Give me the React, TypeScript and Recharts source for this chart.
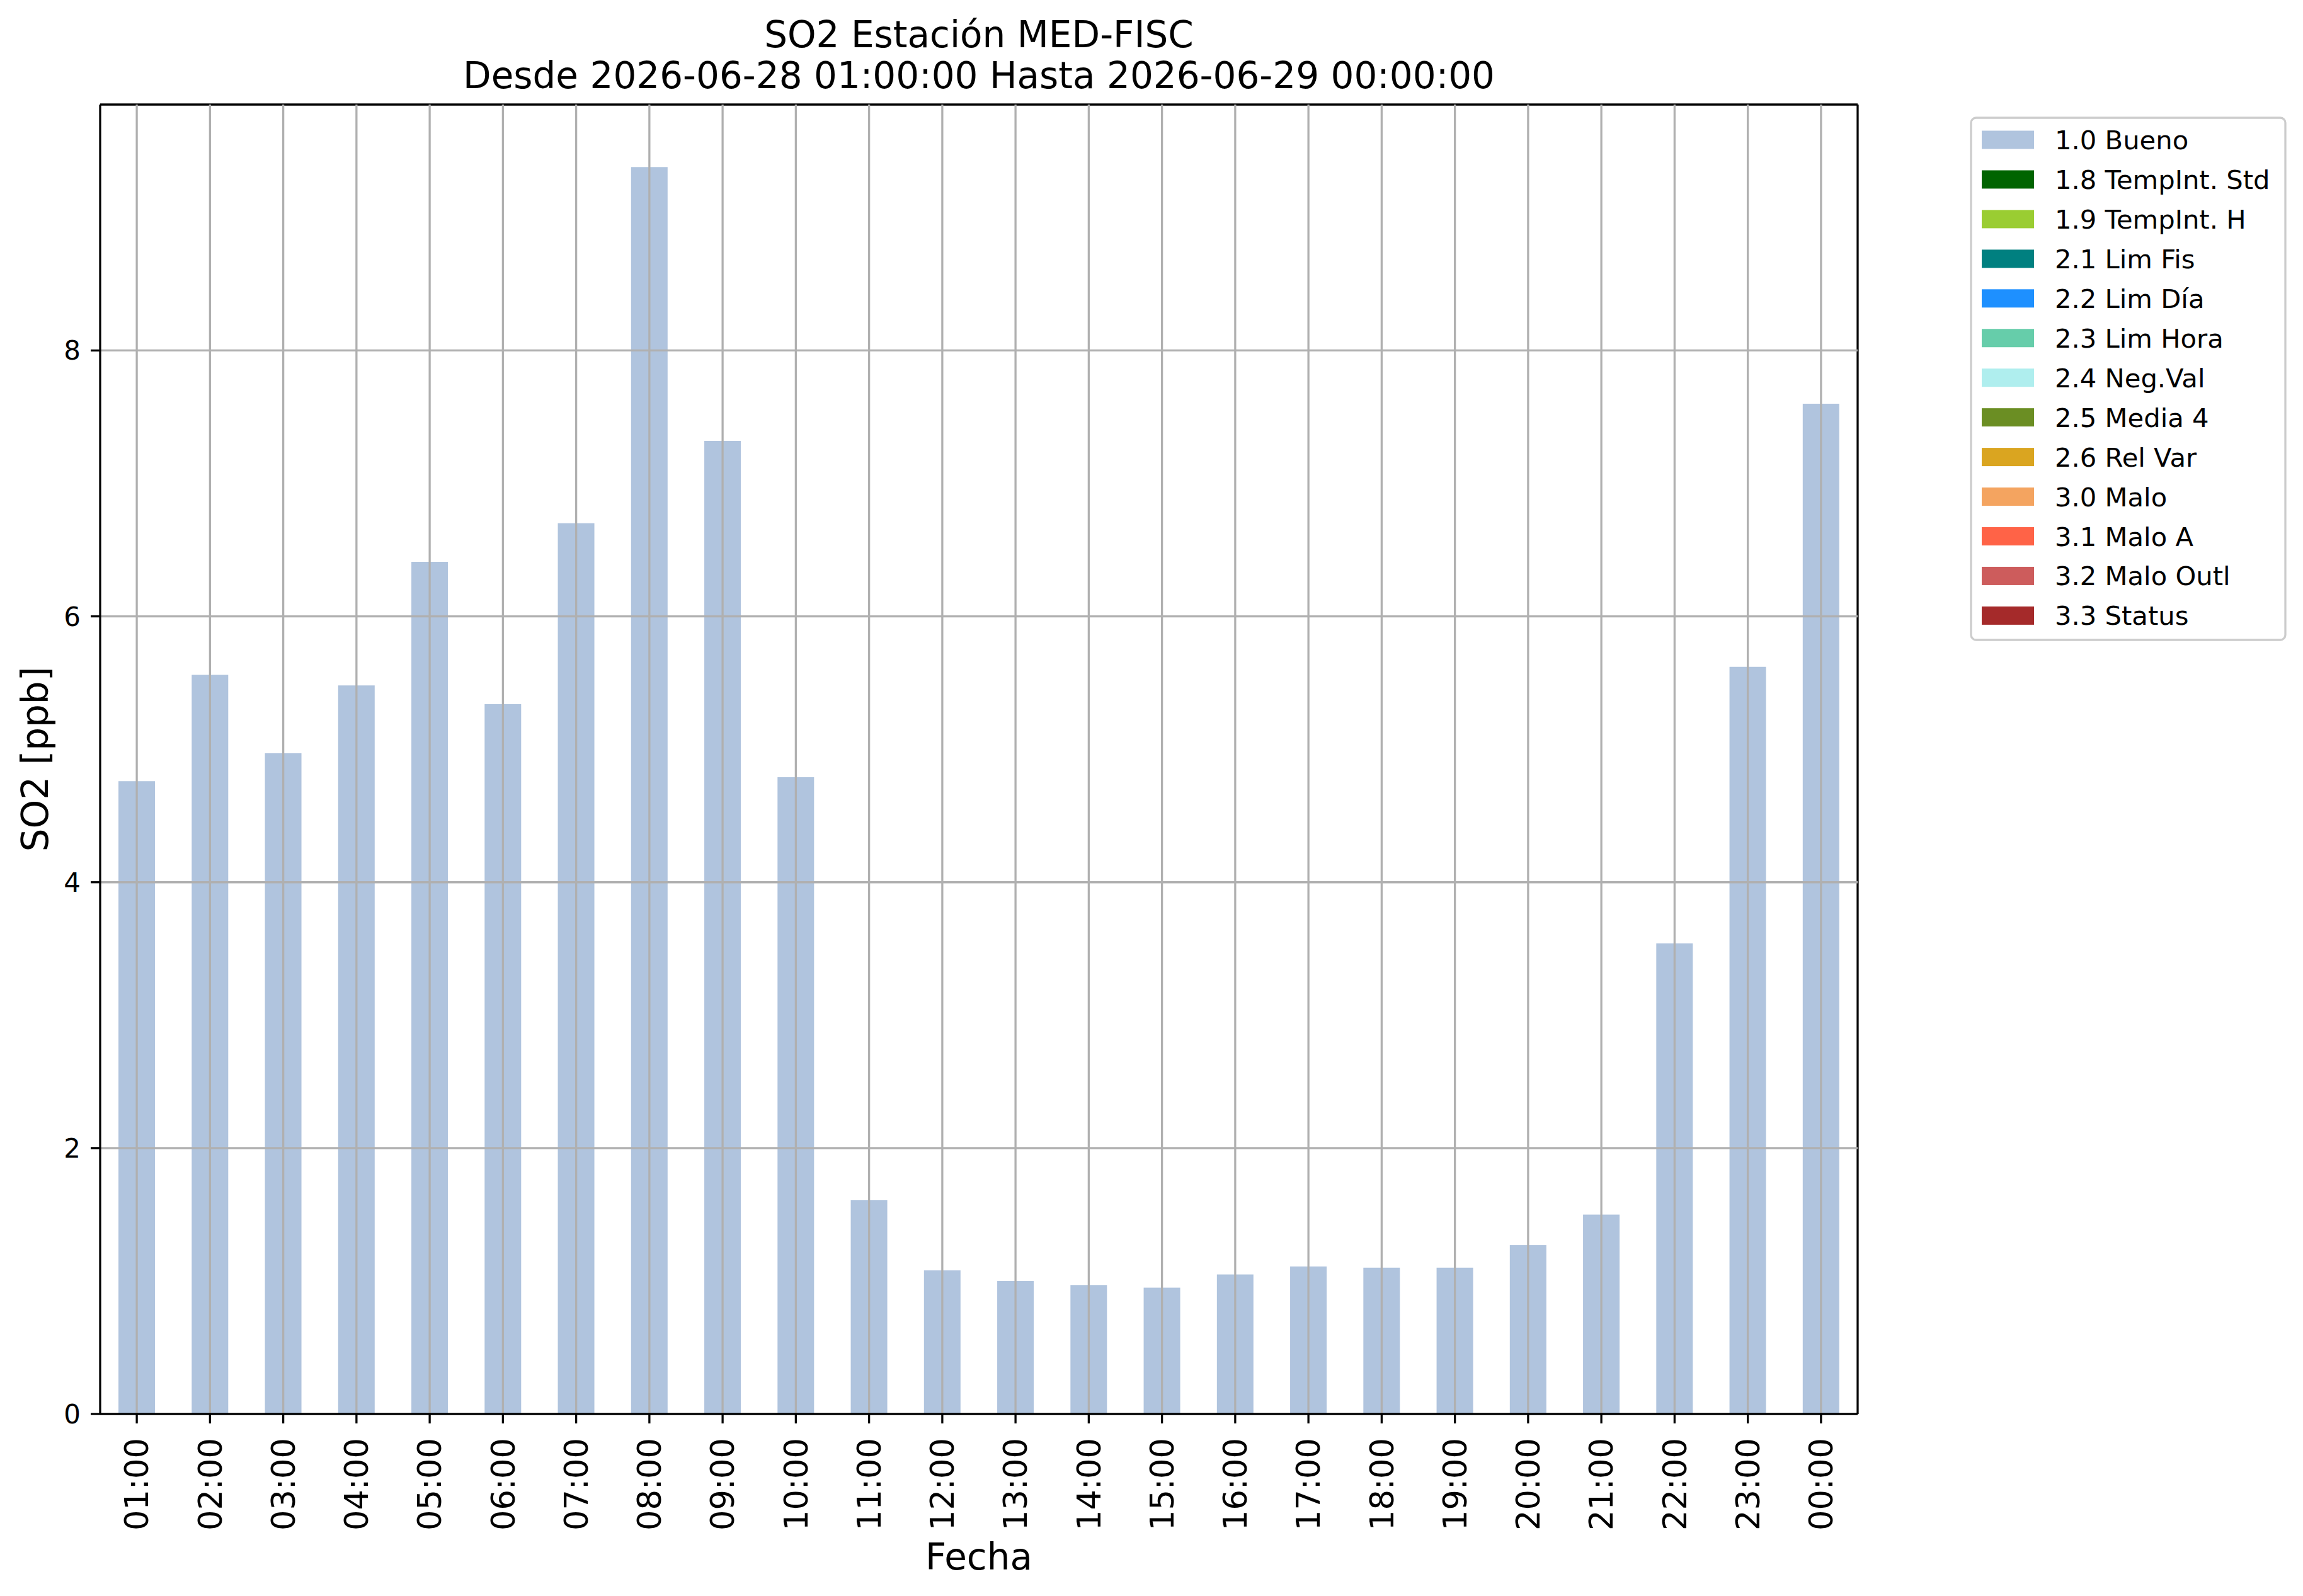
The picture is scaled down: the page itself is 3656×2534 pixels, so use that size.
import { BarChart, Bar, XAxis, YAxis, ReferenceLine, CartesianGrid } from 'recharts';

const hours = [
  '01:00', '02:00', '03:00', '04:00', '05:00', '06:00', '07:00', '08:00',
  '09:00', '10:00', '11:00', '12:00', '13:00', '14:00', '15:00', '16:00',
  '17:00', '18:00', '19:00', '20:00', '21:00', '22:00', '23:00', '00:00',
];

// SO2 [ppb], flag 1.0 Bueno
const so2Values = [
  4.76, 5.56, 4.97, 5.48, 6.41, 5.34, 6.70, 9.38, 7.32, 4.79, 1.61, 1.08,
  1.00, 0.97, 0.95, 1.05, 1.11, 1.10, 1.10, 1.27, 1.50, 3.54, 5.62, 7.60,
];

const yTicks = [0, 2, 4, 6, 8];

const flagLabels = [
  '1.0 Bueno', '1.8 TempInt. Std', '1.9 TempInt. H', '2.1 Lim Fis', '2.2 Lim Día',
  '2.3 Lim Hora', '2.4 Neg.Val', '2.5 Media 4', '2.6 Rel Var', '3.0 Malo',
  '3.1 Malo A', '3.2 Malo Outl', '3.3 Status',
];

const flagColors = [
  '#b0c4de', '#006400', '#9acd32', '#008080', '#1e90ff', '#66cdaa', '#afeeee',
  '#6b8e23', '#daa520', '#f4a460', '#ff6347', '#cd5c5c', '#a52a2a',
];

const FONT = '"DejaVu Sans", sans-serif';
const GRID = '#b0b0b0';
const LW = 3.3;

const data = hours.map((hour, i) => ({ hour, bueno: so2Values[i] }));

const HourTick = (props: any) => {
  const { x, y, payload } = props;
  return (
    <text
      x={x}
      y={y}
      transform={`rotate(-90, ${x}, ${y})`}
      textAnchor="end"
      dy="0.36em"
      fontSize={51}
      fontFamily={FONT}
      fill="#000"
    >
      {payload.value}
    </text>
  );
};

const App = () => {
  const rowH = 62.95;
  return (
    <div style={{ position: 'relative', width: 3656, height: 2534, background: '#fff' }}>
      <style>{'body{margin:0}'}</style>
      <BarChart
        width={3656}
        height={2534}
        data={data}
        margin={{ top: 166, right: 707, bottom: 0, left: 0 }}
        barCategoryGap="25%"
        style={{ fontFamily: FONT }}
      >
        {/* top and right spines */}
        <CartesianGrid
          stroke="#000"
          strokeWidth={LW}
          horizontalCoordinatesGenerator={({ offset }: any) => [offset.top]}
          verticalCoordinatesGenerator={({ offset }: any) => [offset.left + offset.width]}
        />
        <XAxis
          dataKey="hour"
          interval={0}
          height={289}
          tick={<HourTick />}
          tickSize={15}
          tickMargin={23}
          axisLine={{ stroke: '#000', strokeWidth: LW }}
          tickLine={{ stroke: '#000', strokeWidth: LW }}
          label={{ value: 'Fecha', position: 'insideBottom', offset: 42, fontSize: 58, fill: '#000' }}
        />
        <YAxis
          type="number"
          domain={[0, 9.85]}
          ticks={yTicks}
          allowDataOverflow
          width={159}
          tickSize={15}
          tickMargin={16}
          tick={{ fontSize: 42, fill: '#000', fontFamily: FONT }}
          axisLine={{ stroke: '#000', strokeWidth: LW }}
          tickLine={{ stroke: '#000', strokeWidth: LW }}
          label={{
            value: 'SO2 [ppb]',
            angle: -90,
            position: 'insideLeft',
            offset: 55,
            fontSize: 58,
            fill: '#000',
            style: { textAnchor: 'middle' },
          }}
        />
        <Bar dataKey="bueno" fill={flagColors[0]} isAnimationActive={false} />
        {hours.map((h) => (
          <ReferenceLine key={`vx-${h}`} x={h} stroke={GRID} strokeWidth={LW} />
        ))}
        {yTicks
          .filter((t) => t > 0)
          .map((t) => (
            <ReferenceLine key={`hy-${t}`} y={t} stroke={GRID} strokeWidth={LW} />
          ))}
      </BarChart>

      <svg
        width={3656}
        height={2534}
        style={{ position: 'absolute', left: 0, top: 0, pointerEvents: 'none' }}
        fontFamily={FONT}
      >
        <text x={1554} y={75} textAnchor="middle" fontSize={58} fill="#000">
          SO2 Estación MED-FISC
        </text>
        <text x={1554} y={140} textAnchor="middle" fontSize={58} fill="#000">
          Desde 2026-06-28 01:00:00 Hasta 2026-06-29 00:00:00
        </text>

        <rect x={3129} y={187} width={499} height={829} rx={8} fill="#fff" stroke="#cccccc" strokeWidth={LW} />
        {flagLabels.map((label, i) => {
          const cy = 222 + i * rowH;
          return (
            <g key={label}>
              <rect x={3146} y={cy - 14.5} width={83} height={29} fill={flagColors[i]} />
              <text x={3262} y={cy} dy="0.36em" fontSize={41.7} fill="#000">
                {label}
              </text>
            </g>
          );
        })}
      </svg>
    </div>
  );
};

export default App;
